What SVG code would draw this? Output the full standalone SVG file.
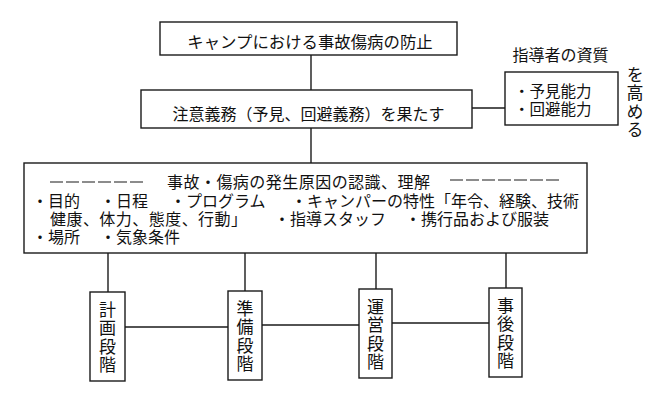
<svg xmlns="http://www.w3.org/2000/svg" width="661" height="407" viewBox="0 0 661 407">
<style>
.box{fill:#fff;stroke:#1a1a1a;stroke-width:1.4}
.ln{fill:none;stroke:#1a1a1a;stroke-width:1.4}
.dash{fill:none;stroke:#1a1a1a;stroke-width:1.2;stroke-dasharray:13 3}
text{font-family:"Noto Sans CJK JP","Noto Sans CJK SC",sans-serif;fill:#111}
.t16{font-size:16px}
.t155{font-size:15.5px}
.vt{font-size:17px;writing-mode:vertical-rl;letter-spacing:1.5px}
.mid{text-anchor:middle}
</style>
<rect x="0" y="0" width="661" height="407" fill="#fff"/>
<g id="connectors">
<line class="ln" x1="311" y1="55" x2="311" y2="90"/>
<line class="ln" x1="311" y1="128" x2="311" y2="163"/>
<line class="ln" x1="472" y1="108" x2="505" y2="108"/>
<line class="ln" x1="108" y1="253" x2="108" y2="292"/>
<line class="ln" x1="245" y1="253" x2="245" y2="291"/>
<line class="ln" x1="376" y1="253" x2="376" y2="289"/>
<line class="ln" x1="506" y1="253" x2="506" y2="288"/>
<line class="ln" x1="125" y1="327" x2="228" y2="327"/>
<line class="ln" x1="262" y1="325" x2="359" y2="325"/>
<line class="ln" x1="392" y1="323" x2="489" y2="323"/>
</g>
<g id="goal">
<rect class="box" x="160" y="22" width="297" height="33"/>
<text class="mid" x="310" y="48" font-size="16.4">キャンプにおける事故傷病の防止</text>
</g>
<g id="duty">
<rect class="box" x="141" y="90" width="331" height="38"/>
<text class="t16 mid" x="308.5" y="120">注意義務（予見、回避義務）を果たす</text>
</g>
<g id="leader">
<text class="t16 mid" x="560.5" y="61">指導者の資質</text>
<rect class="box" x="505" y="72" width="113" height="53"/>
<text class="t155"><tspan x="514" y="96.5">・予見能力</tspan><tspan x="514" y="114.5">・回避能力</tspan></text>
<text class="vt" x="635" y="66" letter-spacing="1">を高める</text>
</g>
<g id="causes">
<rect class="box" x="24" y="163" width="563" height="90"/>
<line class="dash" x1="50" y1="182" x2="143" y2="182"/>
<line class="dash" x1="450" y1="180" x2="562" y2="180"/>
<text class="t16"><tspan x="167" y="188" textLength="263" lengthAdjust="spacing">事故・傷病の発生原因の認識、理解</tspan><tspan x="32" y="207">・目的</tspan><tspan x="100" y="207">・日程</tspan><tspan x="170" y="207">・プログラム</tspan><tspan x="291" y="207">・キャンパーの特性「年令、経験、技術</tspan><tspan x="50" y="225" textLength="197" lengthAdjust="spacing">健康、体力、態度、行動」</tspan><tspan x="274" y="225">・指導スタッフ</tspan><tspan x="405" y="225">・携行品および服装</tspan><tspan x="32" y="243">・場所</tspan><tspan x="100" y="243">・気象条件</tspan></text>
</g>
<g id="plan">
<rect class="box" x="90" y="292" width="35" height="89"/>
<text class="vt" x="107.5" y="301">計画段階</text>
</g>
<g id="prep">
<rect class="box" x="228" y="291" width="34" height="89"/>
<text class="vt" x="245" y="300">準備段階</text>
</g>
<g id="run">
<rect class="box" x="359" y="289" width="33" height="89"/>
<text class="vt" x="375.5" y="298">運営段階</text>
</g>
<g id="after">
<rect class="box" x="489" y="288" width="33" height="89"/>
<text class="vt" x="505.5" y="297">事後段階</text>
</g>
</svg>
